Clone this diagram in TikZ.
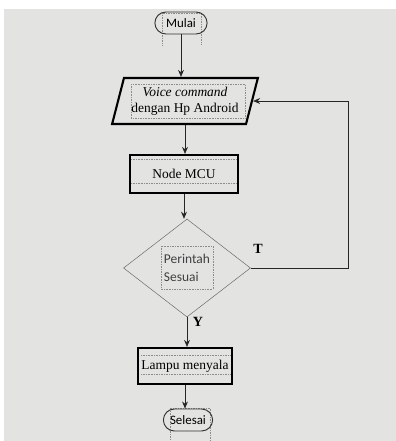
\documentclass[tikz,border=0pt]{standalone}
\usepackage{fontspec}
\setmainfont{Liberation Serif}
\newfontfamily\calibfont{Carlito}
\usetikzlibrary{shapes.geometric,shapes.misc,arrows.meta}
\definecolor{screen}{RGB}{227,228,225}

\begin{document}
\begin{tikzpicture}[x=0.03cm, y=-0.03cm]
        \tikzset{>={Stealth[length=6pt,width=5pt]}}
        \tikzstyle{arr} = [semithick, black!85]
        \tikzstyle{terminal} = [shape=rounded rectangle, draw=black!80, thick, minimum height=0.66cm, font=\calibfont\fontsize{11}{13}\selectfont]
        \tikzstyle{io} = [shape=trapezium, trapezium left angle=73, trapezium right angle=107, trapezium stretches=true, draw, line width=1.8pt, minimum width=4.38cm, minimum height=1.38cm, align=center, font=\fontsize{11.5}{14}\selectfont]
        \tikzstyle{process} = [shape=rectangle, draw, line width=1.8pt, align=center, font=\fontsize{11.5}{14}\selectfont]
        \tikzstyle{decision} = [shape=diamond, draw=black!60, thin, minimum width=3.81cm, minimum height=2.94cm, inner sep=0pt, align=left, text=black!75, font=\calibfont\fontsize{11.5}{15}\selectfont]
        \tikzstyle{txtbox} = [draw=black!45, densely dotted, thin]
        \tikzstyle{answer} = [font=\bfseries\fontsize{12}{14}\selectfont]

        % screen background
        \useasboundingbox (0,0) rectangle (396,441);
        \fill [white] (0,0) rectangle (396,441);
        \fill [screen] (4,9) rectangle (396,441);

        % text box frames
        \draw [txtbox] (162,45) -- (162,13) -- (201,13) -- (201,45);
        \draw [txtbox] (131,84) rectangle (245,118);
        \draw [txtbox] (131,159) -- (236,159);
        \draw [txtbox] (131,183) -- (236,183);
        \draw [txtbox] (161,246) rectangle (213,289);
        \draw [txtbox] (141,355) -- (230,355);
        \draw [txtbox] (141,374) -- (230,374);
        \draw [txtbox] (170,441) -- (170,408) -- (210,408) -- (210,441);

        % shapes
        \node [terminal, minimum width=1.8cm, name=mulai] at (181,23) {Mulai};
        \node [io, name=voice] at (185,101) {\textit{Voice command}\\dengan Hp Android};
        \node [process, minimum width=3.24cm, minimum height=1.14cm, name=mcu] at (184,174) {Node MCU};
        \node [decision, name=sesuai] at (187,268) {Perintah\\Sesuai};
        \node [process, minimum width=2.82cm, minimum height=1.08cm, inner sep=1pt, name=lampu] at (185,366) {Lampu menyala};
        \node [terminal, minimum width=1.71cm, name=selesai] at (188,420) {Selesai};

        \coordinate (back) at (348,268);

        % arrows
        \draw [arr,->] (mulai.south) -- (mulai.south |- voice.north);
        \draw [arr,->] (voice.south) -- (voice.south |- mcu.north);
        \draw [arr,->] (mcu.south) -- (mcu.south |- sesuai.north);
        \draw [arr,->] (sesuai.south) -- (sesuai.south |- lampu.north);
        \draw [arr,->] (lampu.south) -- (lampu.south |- selesai.north);
        \draw [arr,->] (sesuai.east) -- (back) |- (voice.east);

        \node [answer, name=tLabel] at (258,249) {T};
        \node [answer, name=yLabel] at (198,322) {Y};
\end{tikzpicture}
\end{document}
